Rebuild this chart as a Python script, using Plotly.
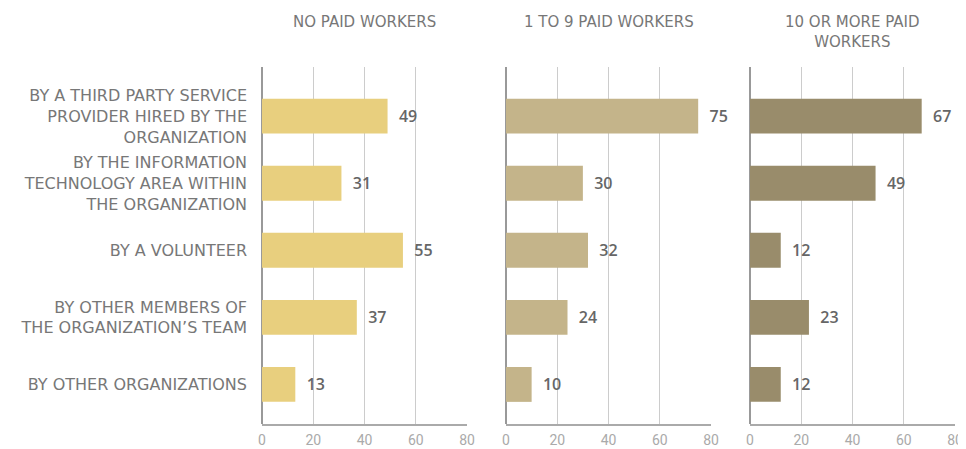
import plotly.graph_objects as go
from plotly.subplots import make_subplots

categories = [
    "BY A THIRD PARTY SERVICE<br>PROVIDER HIRED BY THE<br>ORGANIZATION",
    "BY THE INFORMATION<br>TECHNOLOGY AREA WITHIN<br>THE ORGANIZATION",
    "BY A VOLUNTEER",
    "BY OTHER MEMBERS OF<br>THE ORGANIZATION’S TEAM",
    "BY OTHER ORGANIZATIONS",
]
panel_titles = ["NO PAID WORKERS", "1 TO 9 PAID WORKERS", "10 OR MORE PAID<br>WORKERS"]
no_paid = [49, 31, 55, 37, 13]
one_to_nine = [75, 30, 32, 24, 10]
ten_plus = [67, 49, 12, 23, 12]
colors = ["#E8CF7E", "#C4B48A", "#998C6B"]
tick_vals = [0, 20, 40, 60, 80]

# page body has an 8px margin: lay out in window pixels, then shift
OFF = 8
W, H = 966 - OFF, 449 - OFF
LABEL_FONT = "DejaVu Sans"
series = [no_paid, one_to_nine, ten_plus]
xdoms = [(262, 467), (506, 711), (750, 955)]

fig = make_subplots(rows=1, cols=3, shared_yaxes=True)
for i, vals in enumerate(series):
    fig.add_trace(go.Bar(
        y=list(range(len(categories))), x=vals, orientation="h",
        marker=dict(color=colors[i], line=dict(width=0)), width=0.52,
        text=[f"  {v}" for v in vals], textposition="outside",
        textfont=dict(family="Open Sans", size=16, color="#666666", weight=600),
        cliponaxis=False, showlegend=False, hoverinfo="skip",
    ), row=1, col=i + 1)

ytop, ybot = 66.5 - OFF, 424 - OFF
fig.update_layout(
    width=W, height=H, margin=dict(l=0, r=0, t=0, b=0),
    plot_bgcolor="white", paper_bgcolor="white",
    font=dict(family=LABEL_FONT, color="#777777"),
)
for i in range(3):
    ax = "xaxis" if i == 0 else f"xaxis{i+1}"
    x0, x1 = xdoms[i][0] - OFF, xdoms[i][1] - OFF
    fig.layout[ax].update(
        domain=[x0 / W, x1 / W], range=[0, 80], tickvals=tick_vals,
        showgrid=True, gridcolor="#CCCCCC", gridwidth=1,
        zeroline=True, zerolinecolor="#999999", zerolinewidth=2,
        showline=True, linecolor="#AAAAAA", linewidth=2,
        ticks="", ticklabelstandoff=2, automargin=False,
        tickfont=dict(family="Roboto", size=14, color="#AAAAAA"),
        fixedrange=True,
    )
    fig.add_annotation(
        x=(x0 + x1) / 2 / W, y=1 - (11 - OFF) / H, xref="paper", yref="paper",
        text=panel_titles[i], showarrow=False, xanchor="center", yanchor="top",
        font=dict(family=LABEL_FONT, size=15, color="#777777"),
    )

fig.update_yaxes(
    domain=[1 - ybot / H, 1 - ytop / H], range=[4.59, -0.74],
    tickvals=list(range(len(categories))), showgrid=False, zeroline=False,
    automargin=False,
)
fig.layout.yaxis.update(
    ticktext=categories, ticks="", ticklabelstandoff=14,
    tickfont=dict(family=LABEL_FONT, size=16, color="#777777"),
)
fig.write_html("out.html")
